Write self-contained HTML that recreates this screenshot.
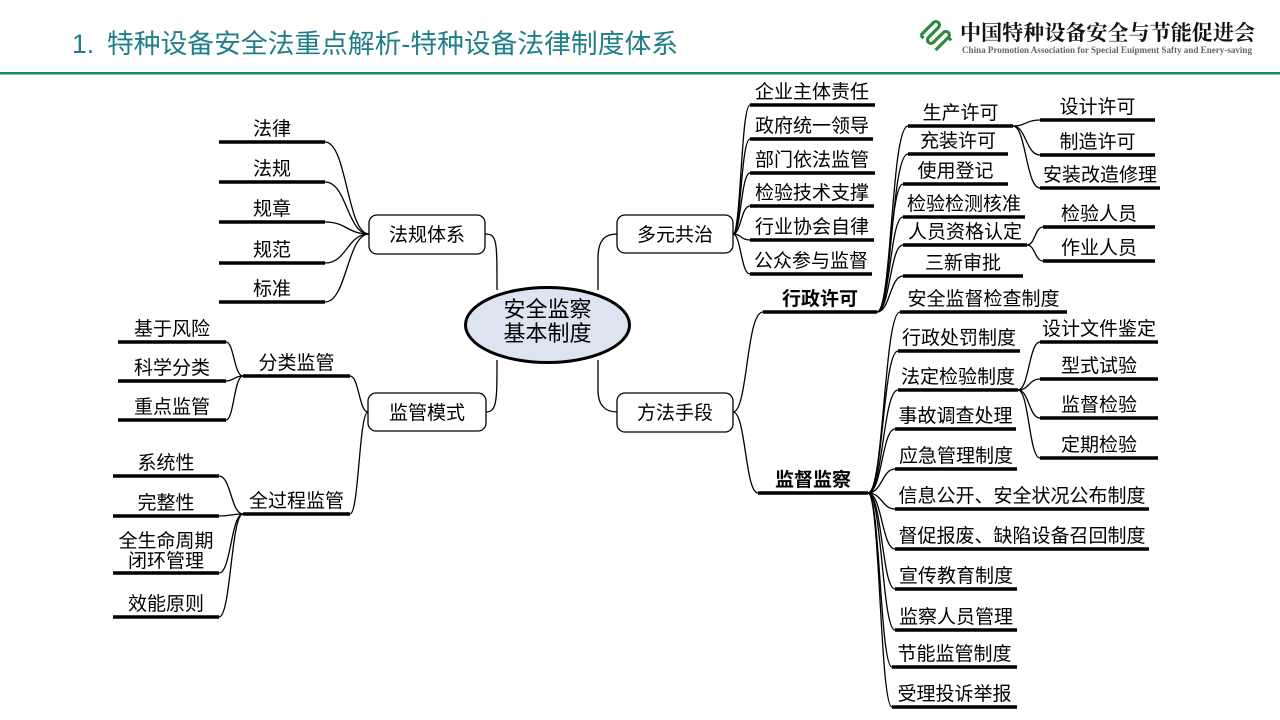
<!DOCTYPE html>
<html><head><meta charset="utf-8"><style>
html,body{margin:0;padding:0;background:#fff;}
svg{display:block}
text{font-family:"Liberation Sans","Noto Sans CJK SC",sans-serif;font-size:19px;fill:#000;text-anchor:middle}
.b{font-weight:bold}
.c{fill:none;stroke:#000;stroke-width:1.3}
.l{stroke:#000;stroke-width:3.5}
</style></head><body>
<svg width="1280" height="720" viewBox="0 0 1280 720" xmlns="http://www.w3.org/2000/svg">
<rect width="1280" height="720" fill="#fff"/>
<!-- header -->
<text x="72" y="53" style="font-size:26.5px;fill:#1f7e8a;text-anchor:start">1.</text>
<text x="107" y="53" textLength="571" lengthAdjust="spacingAndGlyphs" style="font-size:26.5px;fill:#1f7e8a;text-anchor:start">特种设备安全法重点解析-特种设备法律制度体系</text>
<rect x="0" y="72" width="1280" height="2.5" fill="#1d8a6e"/>
<g transform="rotate(-45 937 36)" stroke="#2e8b3e" stroke-width="3.2" fill="none">
<path d="M926 24 h18 a3.5 3.5 0 0 1 0 7 h-14 a3.5 3.5 0 0 0 0 7 h14 a3.5 3.5 0 0 1 0 7 h-18"/>
<path d="M926 24 v4 M944 45 v4"/>
</g>
<text x="960" y="40" textLength="295" lengthAdjust="spacingAndGlyphs" style="font-family:'Noto Serif CJK SC','Liberation Serif',serif;font-weight:bold;font-size:21px;text-anchor:start;fill:#111">中国特种设备安全与节能促进会</text>
<text x="962" y="53" textLength="290" lengthAdjust="spacingAndGlyphs" style="font-family:'Liberation Serif',serif;font-weight:bold;font-size:9px;text-anchor:start;fill:#666">China Promotion Association for Special Euipment Safty and Enery-saving</text>

<!-- connectors -->
<g class="c">
<!-- center -->
<path d="M485 234C497 234 497 240 497 290"/>
<path d="M497 360C497 400 497 412 486 412"/>
<path d="M598 290L598 258C598 240 605 234 617 234"/>
<path d="M598 360L598 390C598 405 605 412 617 412"/>
<!-- 法规体系 -->
<path d="M369 234C347 234 347 142 325 142"/>
<path d="M369 234C347 234 347 182 325 182"/>
<path d="M369 234C347 234 347 222 325 222"/>
<path d="M369 234C347 234 347 263 325 263"/>
<path d="M369 234C347 234 347 302 325 302"/>
<!-- 监管模式 -->
<path d="M368 412C359 412 359 376 350 376"/>
<path d="M368 412C359 412 359 514 350 514"/>
<!-- 分类监管 -->
<path d="M243 376C234 376 234 342 226 342"/>
<path d="M243 376C234 376 234 381 226 381"/>
<path d="M243 376C234 376 234 420 226 420"/>
<!-- 全过程监管 -->
<path d="M243 514C231 514 231 476 219 476"/>
<path d="M243 514C231 514 231 516 219 516"/>
<path d="M243 514C231 514 231 573 219 573"/>
<path d="M243 514C231 514 231 617 219 617"/>
<!-- 多元共治 -->
<path d="M733 234C741 234 741 105 750 105"/>
<path d="M733 234C741 234 741 139 750 139"/>
<path d="M733 234C741 234 741 173 750 173"/>
<path d="M733 234C741 234 741 206 750 206"/>
<path d="M733 234C741 234 741 240 750 240"/>
<path d="M733 234C741 234 741 274 750 274"/>
<!-- 方法手段 -->
<path d="M733 412C748 412 746 312 763 312"/>
<path d="M733 412C746 412 745 493 758 493"/>
<!-- 行政许可 -->
<path d="M877 312C892 312 891 126 908 126"/>
<path d="M877 312C892 312 891 154 908 154"/>
<path d="M877 312C890 312 890 184 903 184"/>
<path d="M877 312C890 312 890 217 903 217"/>
<path d="M877 312C890 312 890 245 903 245"/>
<path d="M877 312C890 312 890 276 903 276"/>
<!-- 生产许可 -->
<path d="M1013 126C1026 126 1026 120 1040 120"/>
<path d="M1013 126C1026 126 1026 155 1040 155"/>
<path d="M1013 126C1026 126 1026 188 1040 188"/>
<!-- 人员资格认定 -->
<path d="M1027 245C1035 245 1035 227 1043 227"/>
<path d="M1027 245C1035 245 1035 261 1043 261"/>
<!-- 监督监察 -->
<path d="M868 493C884 493 884 312 900 312"/>
<path d="M868 493C883 493 883 351 898 351"/>
<path d="M868 493C883 493 883 390 898 390"/>
<path d="M868 493C882 493 882 429 895 429"/>
<path d="M868 493C882 493 882 469 895 469"/>
<path d="M868 493C882 493 882 509 895 509"/>
<path d="M868 493C882 493 882 549 895 549"/>
<path d="M868 493C882 493 882 589 895 589"/>
<path d="M868 493C882 493 882 630 895 630"/>
<path d="M868 493C880 493 880 667 892 667"/>
<path d="M868 493C880 493 880 707 892 707"/>
<!-- 法定检验制度 -->
<path d="M1018 390C1029 390 1029 342 1040 342"/>
<path d="M1018 390C1029 390 1029 379 1040 379"/>
<path d="M1018 390C1029 390 1029 418 1040 418"/>
<path d="M1018 390C1029 390 1029 458 1040 458"/>
</g>

<!-- center ellipse -->
<ellipse cx="547.5" cy="325" rx="82" ry="37.5" fill="#dce4f0" stroke="#000" stroke-width="3"/>
<text x="547.5" y="317" style="font-size:22px">安全监察</text>
<text x="547.5" y="341" style="font-size:22px">基本制度</text>

<!-- boxes -->
<g fill="#fff" stroke="#000" stroke-width="1.3">
<rect x="369" y="215" width="116" height="39" rx="8"/>
<rect x="368" y="393" width="118" height="38" rx="8"/>
<rect x="617" y="215" width="116" height="38" rx="8"/>
<rect x="617" y="393" width="116" height="39" rx="8"/>
</g>
<text x="427" y="241">法规体系</text>
<text x="427" y="419">监管模式</text>
<text x="675" y="241">多元共治</text>
<text x="675" y="419">方法手段</text>

<!-- left nodes -->
<g class="l">
<line x1="219" y1="142" x2="325" y2="142"/>
<line x1="219" y1="182" x2="325" y2="182"/>
<line x1="219" y1="222" x2="325" y2="222"/>
<line x1="219" y1="263" x2="325" y2="263"/>
<line x1="219" y1="302" x2="325" y2="302"/>
<line x1="243" y1="376" x2="350" y2="376"/>
<line x1="243" y1="514" x2="350" y2="514"/>
<line x1="118" y1="342" x2="226" y2="342"/>
<line x1="118" y1="381" x2="226" y2="381"/>
<line x1="118" y1="420" x2="226" y2="420"/>
<line x1="113" y1="476" x2="219" y2="476"/>
<line x1="113" y1="516" x2="219" y2="516"/>
<line x1="113" y1="573" x2="219" y2="573"/>
<line x1="113" y1="617" x2="219" y2="617"/>
</g>
<text x="272" y="135">法律</text>
<text x="272" y="175">法规</text>
<text x="272" y="215">规章</text>
<text x="272" y="256">规范</text>
<text x="272" y="295">标准</text>
<text x="296.5" y="369">分类监管</text>
<text x="296.5" y="507">全过程监管</text>
<text x="172" y="335">基于风险</text>
<text x="172" y="374">科学分类</text>
<text x="172" y="413">重点监管</text>
<text x="166" y="469">系统性</text>
<text x="166" y="509">完整性</text>
<text x="166" y="547">全生命周期</text>
<text x="166" y="567">闭环管理</text>
<text x="166" y="610">效能原则</text>

<!-- right nodes -->
<g class="l">
<line x1="750" y1="105" x2="875" y2="105"/>
<line x1="750" y1="139" x2="873" y2="139"/>
<line x1="750" y1="173" x2="875" y2="173"/>
<line x1="750" y1="206" x2="874" y2="206"/>
<line x1="750" y1="240" x2="874" y2="240"/>
<line x1="750" y1="274" x2="872" y2="274"/>
<line x1="763" y1="312" x2="877" y2="312"/>
<line x1="758" y1="493" x2="868" y2="493"/>
<line x1="908" y1="126" x2="1013" y2="126"/>
<line x1="908" y1="154" x2="1008" y2="154"/>
<line x1="903" y1="184" x2="1008" y2="184"/>
<line x1="903" y1="217" x2="1025" y2="217"/>
<line x1="903" y1="245" x2="1027" y2="245"/>
<line x1="903" y1="276" x2="1023" y2="276"/>
<line x1="1040" y1="120" x2="1155" y2="120"/>
<line x1="1040" y1="155" x2="1155" y2="155"/>
<line x1="1040" y1="188" x2="1160" y2="188"/>
<line x1="1043" y1="227" x2="1155" y2="227"/>
<line x1="1043" y1="261" x2="1155" y2="261"/>
<line x1="900" y1="312" x2="1067" y2="312"/>
<line x1="898" y1="351" x2="1020" y2="351"/>
<line x1="898" y1="390" x2="1018" y2="390"/>
<line x1="895" y1="429" x2="1016" y2="429"/>
<line x1="895" y1="469" x2="1017" y2="469"/>
<line x1="895" y1="509" x2="1149" y2="509"/>
<line x1="895" y1="549" x2="1149" y2="549"/>
<line x1="895" y1="589" x2="1017" y2="589"/>
<line x1="895" y1="630" x2="1017" y2="630"/>
<line x1="892" y1="667" x2="1017" y2="667"/>
<line x1="892" y1="707" x2="1017" y2="707"/>
<line x1="1040" y1="342" x2="1158" y2="342"/>
<line x1="1040" y1="379" x2="1158" y2="379"/>
<line x1="1040" y1="418" x2="1158" y2="418"/>
<line x1="1040" y1="458" x2="1158" y2="458"/>
</g>
<text x="812" y="98">企业主体责任</text>
<text x="812" y="132">政府统一领导</text>
<text x="812" y="166">部门依法监管</text>
<text x="812" y="199">检验技术支撑</text>
<text x="812" y="233">行业协会自律</text>
<text x="811" y="267">公众参与监督</text>
<text class="b" x="820" y="305">行政许可</text>
<text class="b" x="813" y="486">监督监察</text>
<text x="960.5" y="119">生产许可</text>
<text x="958" y="147">充装许可</text>
<text x="955.5" y="177">使用登记</text>
<text x="964" y="210">检验检测核准</text>
<text x="965" y="238">人员资格认定</text>
<text x="963" y="269">三新审批</text>
<text x="1097.5" y="113">设计许可</text>
<text x="1097.5" y="148">制造许可</text>
<text x="1100" y="181">安装改造修理</text>
<text x="1099" y="220">检验人员</text>
<text x="1099" y="254">作业人员</text>
<text x="983.5" y="305">安全监督检查制度</text>
<text x="959" y="344">行政处罚制度</text>
<text x="958" y="383">法定检验制度</text>
<text x="955.5" y="422">事故调查处理</text>
<text x="956" y="462">应急管理制度</text>
<text x="1022" y="502">信息公开、安全状况公布制度</text>
<text x="1022" y="542">督促报废、缺陷设备召回制度</text>
<text x="956" y="582">宣传教育制度</text>
<text x="956" y="623">监察人员管理</text>
<text x="954.5" y="660">节能监管制度</text>
<text x="954.5" y="700">受理投诉举报</text>
<text x="1099" y="335">设计文件鉴定</text>
<text x="1099" y="372">型式试验</text>
<text x="1099" y="411">监督检验</text>
<text x="1099" y="451">定期检验</text>
</svg>
</body></html>
